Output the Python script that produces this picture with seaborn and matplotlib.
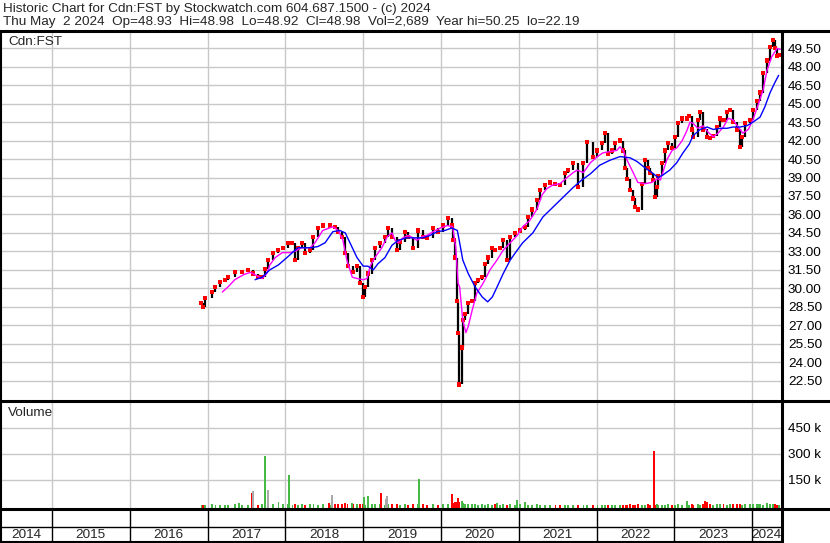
import matplotlib
matplotlib.use('Agg')
import matplotlib.pyplot as plt
from matplotlib.lines import Line2D
import numpy as np
import pandas as pd
import seaborn as sns

sns.set_style('white')
plt.rcParams['font.family'] = ['Liberation Sans', 'DejaVu Sans']

# daily closes, sampled (x in fractional years)
px_year = [
    2016.92, 2016.94, 2016.97, 2017.06, 2017.10, 2017.16, 2017.22, 2017.26, 2017.35, 2017.44,
    2017.52, 2017.58, 2017.65, 2017.70, 2017.74, 2017.78, 2017.84, 2017.91, 2017.97, 2018.03,
    2018.09, 2018.12, 2018.16, 2018.21, 2018.25, 2018.32, 2018.36, 2018.42, 2018.48, 2018.57,
    2018.64, 2018.68, 2018.73, 2018.77, 2018.80, 2018.87, 2018.92, 2018.96, 2019.00, 2019.02,
    2019.06, 2019.11, 2019.15, 2019.22, 2019.28, 2019.32, 2019.37, 2019.43, 2019.47, 2019.54,
    2019.58, 2019.64, 2019.70, 2019.77, 2019.82, 2019.90, 2019.96, 2020.03, 2020.09, 2020.14,
    2020.16, 2020.18, 2020.21, 2020.22, 2020.23, 2020.27, 2020.28, 2020.31, 2020.35, 2020.40,
    2020.44, 2020.48, 2020.53, 2020.57, 2020.60, 2020.66, 2020.69, 2020.76, 2020.80, 2020.85,
    2020.89, 2020.95, 2021.02, 2021.08, 2021.12, 2021.17, 2021.23, 2021.27, 2021.34, 2021.40,
    2021.47, 2021.53, 2021.59, 2021.63, 2021.70, 2021.76, 2021.83, 2021.88, 2021.95, 2022.01,
    2022.07, 2022.11, 2022.15, 2022.20, 2022.24, 2022.30, 2022.34, 2022.37, 2022.39, 2022.43,
    2022.47, 2022.49, 2022.53, 2022.58, 2022.62, 2022.66, 2022.69, 2022.73, 2022.75, 2022.78,
    2022.79, 2022.84, 2022.88, 2022.92, 2022.97, 2023.01, 2023.05, 2023.10, 2023.16, 2023.19,
    2023.23, 2023.24, 2023.30, 2023.33, 2023.37, 2023.42, 2023.46, 2023.50, 2023.55, 2023.59,
    2023.63, 2023.68, 2023.71, 2023.75, 2023.80, 2023.84, 2023.87, 2023.91, 2023.97, 2024.01,
    2024.06, 2024.10, 2024.14, 2024.19, 2024.23, 2024.27, 2024.29, 2024.32, 2024.34,
]
px_close = [
    28.8, 28.5, 29.2, 29.7, 30.1, 30.5, 30.7, 30.9, 31.3, 31.3,
    31.5, 31.2, 30.9, 30.9, 31.6, 32.3, 32.9, 33.1, 33.3, 33.7,
    33.7, 32.3, 33.3, 33.7, 32.9, 33.1, 34.2, 34.9, 35.1, 35.1,
    35.0, 34.6, 34.2, 32.9, 31.8, 31.3, 31.8, 30.4, 29.3, 30.1,
    31.2, 32.3, 33.3, 33.7, 34.2, 34.9, 34.2, 33.1, 33.8, 34.6,
    34.2, 33.3, 34.7, 34.2, 34.1, 34.9, 34.6, 35.1, 35.7, 35.1,
    33.9, 32.5, 29.0, 26.4, 22.19, 25.2, 27.4, 27.9, 28.8, 29.0,
    30.4, 30.7, 30.9, 32.0, 32.5, 33.3, 33.1, 33.3, 33.9, 32.3,
    34.2, 34.5, 34.7, 35.0, 35.8, 36.4, 37.2, 38.0, 38.4, 38.6,
    38.5, 38.4, 39.4, 39.6, 40.2, 38.2, 40.2, 41.9, 40.7, 41.2,
    41.8, 42.6, 40.9, 41.2, 41.8, 42.0, 41.2, 39.8, 38.9, 38.0,
    37.3, 36.6, 36.4, 38.5, 40.4, 39.8, 39.4, 38.8, 37.4, 38.2,
    39.1, 40.2, 41.2, 41.8, 41.4, 42.3, 43.4, 43.8, 43.8, 44.0,
    42.9, 42.3, 43.7, 44.3, 42.9, 42.3, 42.2, 42.4, 43.1, 43.8,
    43.7, 44.3, 44.5, 43.5, 42.9, 41.5, 42.3, 43.4, 43.7, 44.5,
    45.2, 45.9, 47.5, 48.5, 49.6, 50.2, 49.5, 48.9, 48.98,
]
# volume (thousands) on the same sample days
vol_k = [
    3, 2, 4, 5, 3, 4, 6, 3, 8, 5,
    6, 4, 5, 7, 9, 6, 8, 5, 10, 7,
    6, 8, 5, 9, 6, 7, 10, 5, 8, 6,
    7, 9, 8, 12, 10, 7, 9, 11, 8, 6,
    9, 7, 10, 8, 6, 11, 7, 9, 5, 8,
    6, 10, 7, 8, 6, 9, 5, 7, 10, 12,
    14, 18, 20, 16, 22, 15, 12, 10, 8, 9,
    7, 6, 8, 5, 9, 6, 7, 5, 8, 6,
    7, 5, 9, 6, 4, 5, 7, 4, 3, 5,
    4, 3, 5, 4, 3, 4, 5, 3, 4, 3,
    5, 4, 3, 4, 5, 3, 6, 4, 5, 7,
    6, 5, 8, 6, 5, 7, 4, 6, 5, 8,
    6, 4, 5, 7, 5, 6, 8, 6, 7, 5,
    9, 6, 7, 5, 8, 10, 7, 6, 9, 7,
    8, 6, 10, 7, 9, 8, 6, 7, 9, 8,
    7, 9, 6, 8, 10, 7, 9, 6, 2.689,
]

# heavier volume days
spike_year = [2017.06, 2017.40, 2017.57, 2017.585, 2017.74, 2017.78, 2017.91, 2018.05, 2018.56, 2018.60,
              2018.86, 2019.01, 2019.06, 2019.23, 2019.29, 2019.31, 2019.72, 2020.14, 2020.22, 2020.27,
              2020.72, 2020.98, 2021.08, 2022.74, 2023.16, 2023.39, 2023.42, 2024.09, 2024.19]
spike_k = [8, 12, 75, 87, 288, 92, 23, 179, 12, 63,
           17, 52, 58, 75, 37, 58, 156, 69, 46, 29,
           17, 35, 20, 317, 29, 29, 22, 10, 12]
spike_dir = ['up', 'up', 'down', 'flat', 'up', 'flat', 'up', 'up', 'down', 'flat',
             'up', 'up', 'up', 'down', 'flat', 'flat', 'up', 'down', 'down', 'up',
             'up', 'up', 'up', 'down', 'up', 'down', 'down', 'up', 'up']

# short moving average (magenta)
ma1_year = [2017.19, 2017.26, 2017.35, 2017.46, 2017.55, 2017.61, 2017.70, 2017.76, 2017.80, 2017.87,
            2017.96, 2018.06, 2018.12, 2018.21, 2018.32, 2018.38, 2018.48, 2018.61, 2018.68, 2018.74,
            2018.79, 2018.86, 2018.92, 2019.00, 2019.05, 2019.09, 2019.15, 2019.24, 2019.31, 2019.37,
            2019.41, 2019.45, 2019.51, 2019.58, 2019.64, 2019.69, 2019.76, 2019.82, 2019.90, 2019.99,
            2020.08, 2020.15, 2020.19, 2020.22, 2020.24, 2020.28, 2020.32, 2020.35, 2020.40, 2020.46,
            2020.54, 2020.63, 2020.72, 2020.80, 2020.89, 2020.98, 2021.05, 2021.14, 2021.23, 2021.30,
            2021.36, 2021.44, 2021.53, 2021.62, 2021.70, 2021.75, 2021.83, 2021.92, 2022.01, 2022.08,
            2022.17, 2022.26, 2022.30, 2022.34, 2022.40, 2022.47, 2022.53, 2022.62, 2022.71, 2022.78,
            2022.82, 2022.85, 2022.90, 2022.97, 2023.03, 2023.10, 2023.16, 2023.20, 2023.24, 2023.30,
            2023.37, 2023.43, 2023.50, 2023.56, 2023.63, 2023.69, 2023.75, 2023.82, 2023.88, 2023.95,
            2024.01, 2024.07, 2024.14, 2024.19, 2024.25, 2024.32, 2024.36]
ma1_val = [29.7, 30.1, 30.7, 31.1, 31.3, 31.1, 30.8, 31.2, 31.9, 32.5,
           32.9, 32.9, 33.0, 33.3, 33.3, 33.7, 34.7, 35.0, 34.7, 33.9,
           32.3, 30.9, 30.8, 30.7, 30.8, 31.8, 32.5, 33.3, 34.2, 34.5,
           33.9, 33.7, 34.1, 34.3, 34.1, 33.9, 34.2, 34.3, 34.6, 34.9,
           35.1, 35.0, 33.3, 30.4, 30.1, 27.4, 26.4, 26.9, 28.2, 29.6,
           30.4, 31.5, 32.3, 33.1, 33.7, 34.3, 35.0, 35.5, 36.4, 37.6,
           38.1, 38.4, 38.5, 39.0, 39.4, 39.6, 39.4, 40.2, 40.7, 41.0,
           41.1, 41.2, 41.5, 41.2, 40.3, 39.4, 38.6, 38.5, 38.6, 38.9,
           38.8, 39.4, 40.4, 41.2, 41.4, 42.0, 42.8, 43.5, 43.4, 43.0,
           43.2, 42.7, 42.3, 42.6, 43.1, 43.8, 43.7, 43.1, 42.6, 42.9,
           43.7, 44.8, 46.1, 47.7, 48.8, 49.5, 49.4]

# long moving average (blue)
ma2_year = [2017.61, 2017.70, 2017.80, 2017.91, 2018.02, 2018.09, 2018.16, 2018.25, 2018.34, 2018.42,
            2018.51, 2018.61, 2018.70, 2018.77, 2018.83, 2018.92, 2019.00, 2019.06, 2019.13, 2019.19,
            2019.28, 2019.37, 2019.45, 2019.56, 2019.67, 2019.77, 2019.86, 2019.95, 2020.05, 2020.14,
            2020.21, 2020.24, 2020.28, 2020.35, 2020.44, 2020.53, 2020.60, 2020.66, 2020.72, 2020.80,
            2020.89, 2020.98, 2021.05, 2021.18, 2021.31, 2021.44, 2021.57, 2021.70, 2021.81, 2021.92,
            2022.04, 2022.17, 2022.30, 2022.43, 2022.52, 2022.62, 2022.71, 2022.79, 2022.85, 2022.94,
            2023.03, 2023.11, 2023.19, 2023.24, 2023.33, 2023.42, 2023.50, 2023.59, 2023.68, 2023.75,
            2023.84, 2023.93, 2024.01, 2024.10, 2024.16, 2024.23, 2024.29, 2024.34]
ma2_val = [30.7, 30.9, 31.5, 31.9, 32.5, 32.9, 33.3, 33.3, 33.3, 33.4,
           33.7, 34.6, 34.7, 34.5, 33.7, 32.5, 31.8, 31.8, 31.5, 32.0,
           32.5, 33.5, 33.9, 34.1, 34.1, 34.1, 34.3, 34.6, 34.7, 34.9,
           34.7, 33.7, 32.3, 31.2, 30.1, 29.3, 28.9, 29.3, 30.1, 31.2,
           32.3, 33.1, 33.7, 34.5, 35.8, 36.6, 37.4, 38.2, 38.8, 39.3,
           40.0, 40.4, 40.7, 40.6, 40.3, 39.8, 39.4, 39.0, 39.2, 39.6,
           40.2, 41.0, 41.7, 42.4, 42.9, 43.1, 42.9, 43.0, 43.0, 43.1,
           43.1, 43.2, 43.5, 43.9, 44.7, 45.9, 46.7, 47.3]

price_ticks = [22.5, 24.0, 25.5, 27.0, 28.5, 30.0, 31.5, 33.0, 34.5, 36.0,
               37.5, 39.0, 40.5, 42.0, 43.5, 45.0, 46.5, 48.0, 49.5]
vol_ticks = [150, 300, 450]
years = [2014, 2015, 2016, 2017, 2018, 2019, 2020, 2021, 2022, 2023, 2024]

header1 = 'Historic Chart for Cdn:FST by Stockwatch.com 604.687.1500 - (c) 2024'
header2 = ('Thu May  2 2024  Op=48.93  Hi=48.98  Lo=48.92  Cl=48.98  '
           'Vol=2,689  Year hi=50.25  lo=22.19')

W, H = 830, 543
x0, x1 = 2014.332, 2024.37
grid_c = '#c8c8c8'
vol_colors = {'up': '#46b946', 'down': '#ff0000', 'flat': '#a9a9a9'}
fs = 9.7

fig = plt.figure(figsize=(W / 100, H / 100), dpi=100)
fig.patch.set_facecolor('white')

def fy(py):
    return 1 - py / H

ax_p = fig.add_axes([0, fy(400), 781 / W, fy(31) - fy(400)])
ax_v = fig.add_axes([0, fy(509), 781 / W, fy(401) - fy(509)])
ax_d = fig.add_axes([0, 0, 781 / W, fy(509)])

# ---- price panel
prices = pd.DataFrame({'year': px_year, 'close': px_close})
prev = prices['close'].shift(1).fillna(prices['close'])
ax_p.vlines(prices['year'], np.minimum(prev, prices['close']),
            np.maximum(prev, prices['close']), color='black', lw=1.6, zorder=3)
sns.scatterplot(data=prices, x='year', y='close', ax=ax_p, marker='s', s=9,
                color='#ff0000', edgecolor='none', zorder=4, legend=False)
sns.lineplot(x=ma1_year, y=ma1_val, ax=ax_p, color='#ff00ff', lw=1.0, zorder=5)
sns.lineplot(x=ma2_year, y=ma2_val, ax=ax_p, color='#0000ff', lw=1.0, zorder=5)

ax_p.set_xlim(x0, x1)
ax_p.set_ylim(20.93, 50.90)
ax_p.set_yticks(price_ticks)
ax_p.set_yticklabels([f'{v:.2f}' for v in price_ticks])
ax_p.set_xticks(years[1:])
ax_p.set_xticklabels([])

# ---- volume panel
vol = pd.DataFrame({'year': px_year, 'k': vol_k})
vol['dir'] = np.where(prices['close'].diff().fillna(1) >= 0, 'up', 'down')
spikes = pd.DataFrame({'year': spike_year, 'k': spike_k, 'dir': spike_dir})
vol = pd.concat([vol, spikes], ignore_index=True)
vbot = -20
ax_v.bar(vol['year'], vol['k'] - vbot, bottom=vbot, width=0.022,
         color=[vol_colors[d] for d in vol['dir']], zorder=3, linewidth=0)
ax_v.set_xlim(x0, x1)
ax_v.set_ylim(vbot, 606)
ax_v.set_yticks(vol_ticks)
ax_v.set_yticklabels([f'{v} k' for v in vol_ticks])
ax_v.set_xticks(years[1:])
ax_v.set_xticklabels([])

for ax in (ax_p, ax_v):
    ax.grid(True, color=grid_c, lw=1.0, zorder=0)
    ax.set_xlabel('')
    ax.set_ylabel('')
    ax.yaxis.tick_right()
    ax.tick_params(axis='y', length=0, pad=5, labelsize=fs, labelcolor='black')
    ax.tick_params(axis='x', length=0)
    for s in ax.spines.values():
        s.set_visible(False)
    ax.set_facecolor('white')

# ---- date strip
ax_d.set_xlim(x0, x1)
ax_d.set_ylim(0, 1)
ax_d.axis('off')
ax_d.vlines(years[1:], 0, 1, color='black', lw=1.0)
ax_d.axhline(0.47, color='black', lw=1.0)
edges = [x0] + years[1:] + [x1]
for i, yr in enumerate(years):
    ax_d.text((edges[i] + edges[i + 1]) / 2, 0.23, str(yr), ha='center',
              va='center', fontsize=fs)

# ---- frame lines
def hline(py, xa, xb, lw):
    fig.add_artist(Line2D([xa / W, xb / W], [fy(py), fy(py)], color='black',
                          lw=lw, transform=fig.transFigure))

def vline(px, ya, yb, lw):
    fig.add_artist(Line2D([px / W, px / W], [fy(ya), fy(yb)], color='black',
                          lw=lw, transform=fig.transFigure))

hline(31, 0, W, 2.2)
hline(400.5, 0, W, 2.2)
hline(509, 0, W, 2.2)
hline(541.5, 0, 781, 1.5)
vline(781.5, 31, H, 2.2)
vline(0.6, 31, H, 1.5)

fig.text(3 / W, fy(9), header1, fontsize=fs, va='center', ha='left')
fig.text(3 / W, fy(22), header2, fontsize=fs, va='center', ha='left')
fig.text(8 / W, fy(42), 'Cdn:FST', fontsize=fs, va='center', ha='left')
fig.text(8 / W, fy(413), 'Volume', fontsize=fs, va='center', ha='left')

fig.savefig('out.png', dpi=100, facecolor='white')
